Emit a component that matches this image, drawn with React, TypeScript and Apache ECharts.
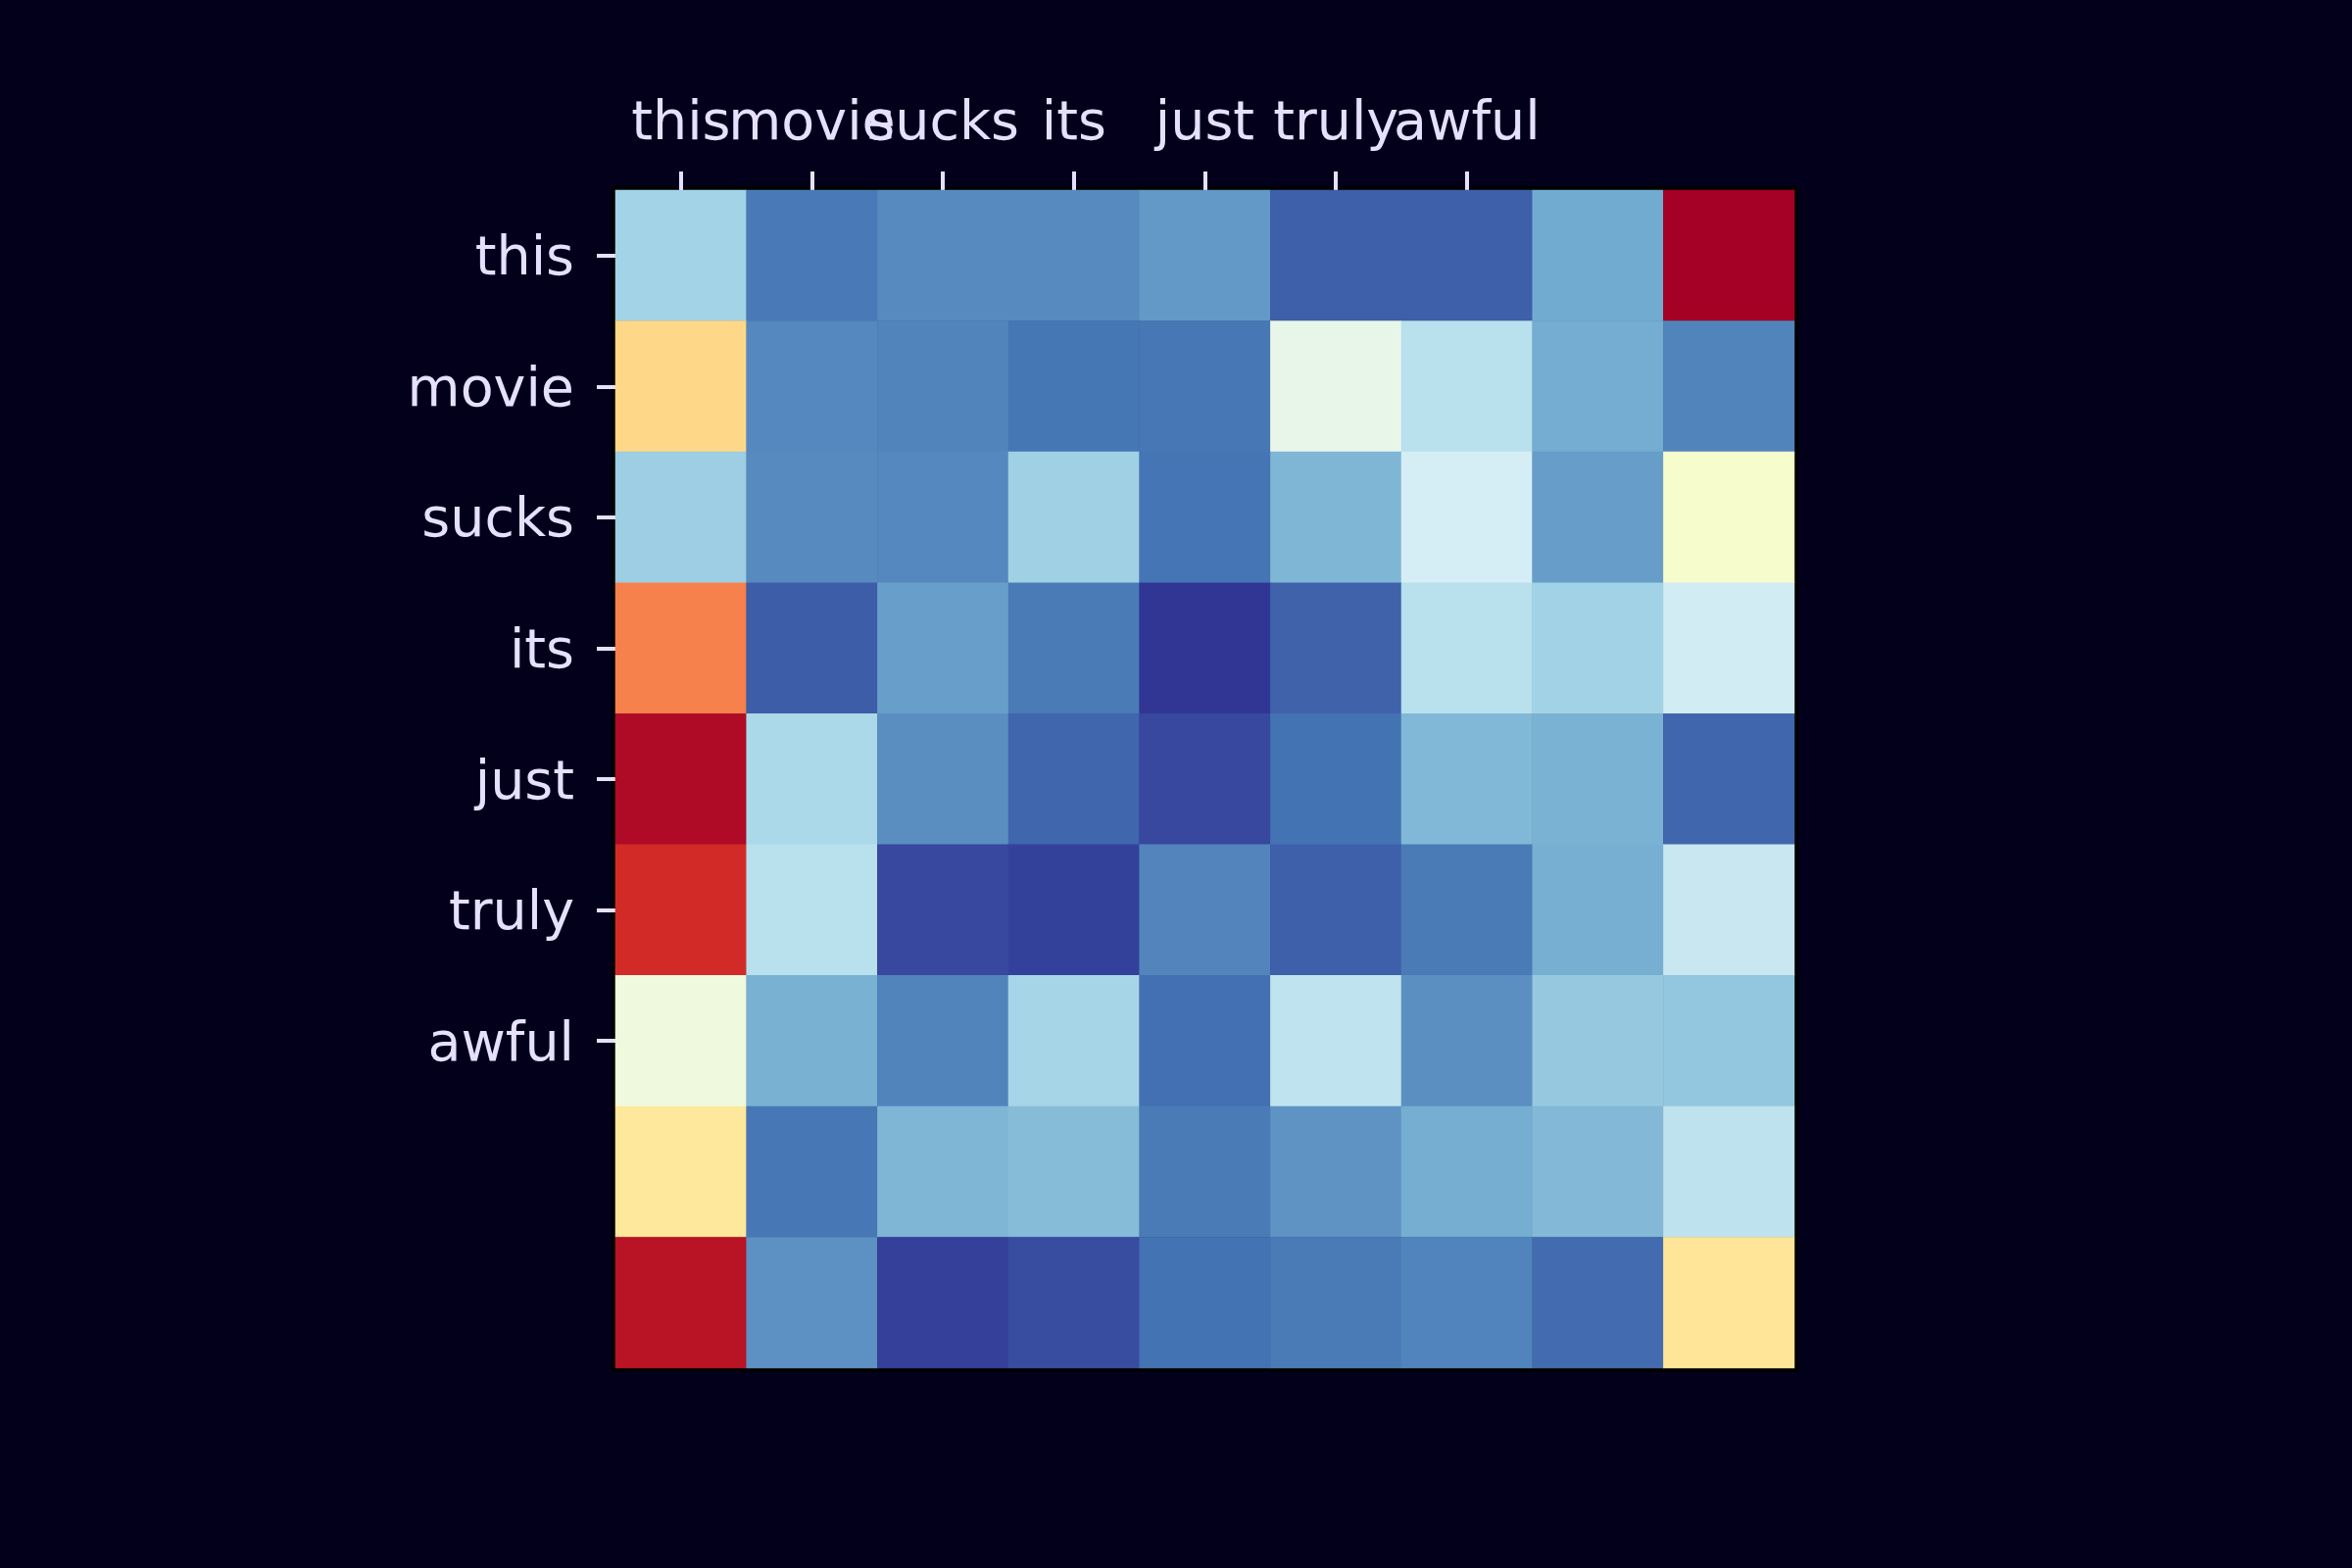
import React, { useEffect, useRef } from "react";
import * as echarts from "echarts";

const xLabels = ["this", "movie", "sucks", "its", "just", "truly", "awful", "", ""];
const yLabels = ["this", "movie", "sucks", "its", "just", "truly", "awful", "", ""];
const labelledCount = 7;

const row0 = [0.286, 0.109, 0.139, 0.139, 0.164, 0.065, 0.065, 0.196, 1.0];
const row1 = [0.616, 0.134, 0.127, 0.103, 0.105, 0.425, 0.327, 0.2, 0.127];
const row2 = [0.275, 0.139, 0.134, 0.28, 0.1, 0.22, 0.38, 0.171, 0.475];
const row3 = [0.77, 0.062, 0.175, 0.11, 0.0, 0.07, 0.325, 0.283, 0.373];
const row4 = [0.98, 0.3, 0.145, 0.076, 0.029, 0.097, 0.225, 0.211, 0.076];
const row5 = [0.91, 0.325, 0.029, 0.017, 0.129, 0.067, 0.11, 0.205, 0.354];
const row6 = [0.447, 0.209, 0.127, 0.291, 0.092, 0.338, 0.146, 0.261, 0.257];
const row7 = [0.574, 0.105, 0.22, 0.235, 0.111, 0.154, 0.202, 0.227, 0.335];
const row8 = [0.96, 0.15, 0.016, 0.035, 0.097, 0.11, 0.126, 0.085, 0.584];
const rows = [row0, row1, row2, row3, row4, row5, row6, row7, row8];

const rdYlBuR = [
  "#313695", "#4575b4", "#74add1", "#abd9e9", "#e0f3f8", "#ffffbf",
  "#fee090", "#fdae61", "#f46d43", "#d73027", "#a50026",
];

const BG = "#02001a";
const FG = "#e6e0ff";
const GRID = { left: 628, top: 194, width: 1203, height: 1202 };

export default function App() {
  const ref = useRef<HTMLDivElement>(null);
  useEffect(() => {
    document.body.style.margin = "0";
    document.body.style.background = BG;
    const chart = echarts.init(ref.current!, null, { renderer: "svg" });
    const data: number[][] = [];
    rows.forEach((r, y) => r.forEach((v, x) => data.push([x, y, v])));
    chart.setOption({
      animation: false,
      backgroundColor: BG,
      textStyle: { fontFamily: "DejaVu Sans" },
      grid: { ...GRID, containLabel: false },
      graphic: [
        {
          type: "rect",
          z: -1,
          shape: {
            x: GRID.left - 4,
            y: GRID.top - 4,
            width: GRID.width + 8,
            height: GRID.height + 8,
          },
          style: { fill: "#000" },
        },
      ],
      xAxis: {
        type: "category",
        position: "top",
        data: xLabels,
        axisLine: { show: false },
        splitLine: { show: false },
        axisTick: {
          show: true,
          alignWithLabel: true,
          length: 19,
          interval: (i: number) => i < labelledCount,
          lineStyle: { color: FG, width: 4 },
        },
        axisLabel: {
          interval: 0,
          color: FG,
          fontSize: 55.5,
          fontFamily: "DejaVu Sans",
          margin: 44,
        },
      },
      yAxis: {
        type: "category",
        position: "left",
        inverse: true,
        data: yLabels,
        axisLine: { show: false },
        splitLine: { show: false },
        axisTick: {
          show: true,
          alignWithLabel: true,
          length: 19,
          interval: (i: number) => i < labelledCount,
          lineStyle: { color: FG, width: 4 },
        },
        axisLabel: {
          interval: 0,
          color: FG,
          fontSize: 55.5,
          fontFamily: "DejaVu Sans",
          margin: 42,
        },
      },
      visualMap: {
        show: false,
        type: "continuous",
        min: 0,
        max: 1,
        dimension: 2,
        inRange: { color: rdYlBuR },
      },
      series: [
        {
          type: "heatmap",
          data,
          itemStyle: { borderWidth: 0 },
          emphasis: { disabled: true },
        },
      ],
    });
    return () => chart.dispose();
  }, []);
  return (
    <div
      ref={ref}
      style={{ position: "fixed", left: 0, top: 0, width: 2400, height: 1600 }}
    />
  );
}
